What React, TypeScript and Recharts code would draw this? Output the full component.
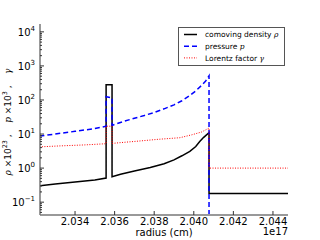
import { Label, Legend, Line, LineChart, XAxis, YAxis } from 'recharts'

// radius in units of 1e17 cm
const rhoX = [2.0322, 2.033, 2.034, 2.035, 2.03557, 2.03557, 2.03587, 2.03587, 2.0363, 2.037, 2.0378, 2.0385, 2.039, 2.0394, 2.0398, 2.0401, 2.0403, 2.0405, 2.04077, 2.04077, 2.0448]
const rhoY = [0.3, 0.34, 0.39, 0.45, 0.51, 280, 280, 0.56, 0.66, 0.82, 1.04, 1.35, 1.75, 2.3, 3.1, 4.3, 6.0, 8.0, 11, 0.18, 0.18]

// pressure falls out of the visible range behind the shock
const presX = [2.0322, 2.033, 2.034, 2.035, 2.03557, 2.03557, 2.03587, 2.03587, 2.0365, 2.037, 2.0375, 2.038, 2.0385, 2.039, 2.0394, 2.0398, 2.0401, 2.0404, 2.0406, 2.04077, 2.04077]
const presY = [8.7, 10, 12, 14.5, 17, 125, 115, 18, 24, 29, 35, 43, 55, 72, 95, 135, 185, 270, 360, 510, 0.045]

const gamX = [2.0322, 2.0333, 2.0345, 2.03557, 2.03557, 2.03587, 2.03587, 2.0363, 2.0372, 2.0382, 2.0393, 2.0399, 2.0404, 2.04077, 2.04077, 2.0448]
const gamY = [4.2, 4.5, 4.8, 5.2, 17, 17, 5.3, 5.6, 6.2, 7.0, 7.8, 9.5, 11.5, 15, 1.0, 1.0]

const seriesNames = ['comoving density ρ', 'pressure p', 'Lorentz factor γ']
const xTicks = [2.034, 2.036, 2.038, 2.04, 2.042, 2.044]
const yMajors = [0.1, 1, 10, 100, 1000, 10000]
const xDomain = [2.03223, 2.04476]
const yDomain = [0.042, 17000]

const yTicks: number[] = []
;[0.01, 0.1, 1, 10, 100, 1000, 10000].forEach((m) => {
    for (let k = 1; k < 10; k++) {
        const v = m * k
        if (v >= yDomain[0] && v <= yDomain[1]) yTicks.push(v)
    }
})

const rhoData = rhoX.map((x, i) => ({ x, v: rhoY[i] }))
const presData = presX.map((x, i) => ({ x, v: presY[i] }))
const gamData = gamX.map((x, i) => ({ x, v: gamY[i] }))

const FONT = 'DejaVu Sans'
const frame = { stroke: '#777', strokeWidth: 1.5 }
const legendStyles = [
    { stroke: '#000', dash: undefined, width: 1.5 },
    { stroke: '#0000ff', dash: '5 3', width: 1.5 },
    { stroke: '#ff0000', dash: '1 1.5', width: 1 },
]

const isMajor = (v: number) => yMajors.some((m) => Math.abs(v / m - 1) < 1e-6)

const BottomTick = ({ x, y, payload }: any) => (
    <g>
        <line x1={x} x2={x} y1={y} y2={y - 4} stroke="#333" />
        <text x={x} y={y + 10} textAnchor="middle" fontSize={10} fontFamily={FONT} fill="#000">
            {payload.value.toFixed(3)}
        </text>
    </g>
)

const TopTick = ({ x, y }: any) => <line x1={x} x2={x} y1={y} y2={y + 4} stroke="#333" />

const LeftTick = ({ x, y, payload }: any) => {
    const major = isMajor(payload.value)
    const e = Math.round(Math.log10(payload.value))
    return (
        <g>
            <line x1={x} x2={x + (major ? 4 : 2)} y1={y} y2={y} stroke="#333" />
            {major && (
                <text x={x - 5} y={y + 4} textAnchor="end" fontSize={10} fontFamily={FONT} fill="#000">
                    10
                    <tspan dy={-5} fontSize={7}>
                        {e < 0 ? '\u2212' + -e : e}
                    </tspan>
                </text>
            )}
        </g>
    )
}

const RightTick = ({ x, y, payload }: any) => (
    <line x1={x} x2={x - (isMajor(payload.value) ? 4 : 2)} y1={y} y2={y} stroke="#333" />
)

const YLabel = () => (
    <text
        transform="translate(11,122) rotate(-90)"
        textAnchor="middle"
        fontSize={9}
        fontFamily={FONT}
        fill="#000"
        style={{ whiteSpace: 'pre' }}
    >
        <tspan fontStyle="italic" fontFamily="DejaVu Serif">ρ</tspan>
        <tspan> ×10</tspan>
        <tspan dy={-4} fontSize={6.5}>23</tspan>
        <tspan dy={4}> ,    </tspan>
        <tspan fontStyle="italic" fontFamily="DejaVu Serif">p</tspan>
        <tspan> ×10</tspan>
        <tspan dy={-4} fontSize={6.5}>3</tspan>
        <tspan dy={4}> ,    </tspan>
        <tspan fontStyle="italic" fontFamily="DejaVu Serif">γ</tspan>
    </text>
)

const XLabel = () => (
    <g fontFamily={FONT} fontSize={10} fill="#000">
        <text x={164} y={236} textAnchor="middle">radius (cm)</text>
        <text x={288} y={235} textAnchor="end">1e17</text>
    </g>
)

const LegendBox = ({ payload }: any) => {
    const items = [...(payload || [])].sort(
        (a: any, b: any) => seriesNames.indexOf(String(a.value)) - seriesNames.indexOf(String(b.value)),
    )
    return (
        <svg width={107} height={39} style={{ display: 'block' }}>
            <rect x={0.5} y={0.5} width={106} height={38} fill="#fff" stroke="#555" />
            {items.map((entry: any, i: number) => {
                const s = legendStyles[i]
                const cy = 7.5 + i * 11.7
                const name = String(entry.value)
                return (
                    <g key={name}>
                        <line x1={6} x2={19} y1={cy} y2={cy} stroke={entry.color || s.stroke} strokeWidth={s.width} strokeDasharray={s.dash} />
                        <text x={27} y={cy + 2.7} fontSize={7.5} fontFamily={FONT} fill="#000">
                            {name.slice(0, -1)}
                            <tspan fontStyle="italic" fontFamily="DejaVu Serif">{name.slice(-1)}</tspan>
                        </text>
                    </g>
                )
            })}
        </svg>
    )
}

export default function App() {
    return (
        <div style={{ position: 'absolute', left: 0, top: 0 }}>
            <LineChart width={320} height={240} margin={{ top: 24, right: 32, bottom: 0, left: 0 }}>
                <XAxis
                    xAxisId="b"
                    dataKey="x"
                    type="number"
                    domain={xDomain}
                    allowDataOverflow
                    ticks={xTicks}
                    interval={0}
                    tickLine={false}
                    tickSize={0}
                    tickMargin={0}
                    height={25}
                    axisLine={frame}
                    tick={BottomTick}
                >
                    <Label content={XLabel} />
                </XAxis>
                <XAxis
                    xAxisId="t"
                    orientation="top"
                    dataKey="x"
                    type="number"
                    domain={xDomain}
                    allowDataOverflow
                    ticks={xTicks}
                    interval={0}
                    tickLine={false}
                    tickSize={0}
                    tickMargin={0}
                    height={0}
                    axisLine={frame}
                    tick={TopTick}
                />
                <YAxis
                    yAxisId="l"
                    scale="log"
                    domain={yDomain}
                    allowDataOverflow
                    ticks={yTicks}
                    interval={0}
                    tickLine={false}
                    tickSize={0}
                    tickMargin={0}
                    width={40}
                    axisLine={frame}
                    tick={LeftTick}
                >
                    <Label content={YLabel} />
                </YAxis>
                <YAxis
                    yAxisId="r"
                    orientation="right"
                    scale="log"
                    domain={yDomain}
                    allowDataOverflow
                    ticks={yTicks}
                    interval={0}
                    tickLine={false}
                    tickSize={0}
                    tickMargin={0}
                    width={0}
                    axisLine={frame}
                    tick={RightTick}
                />
                <Line
                    xAxisId="b"
                    yAxisId="l"
                    data={rhoData}
                    dataKey="v"
                    name={seriesNames[0]}
                    type="linear"
                    stroke="#000"
                    strokeWidth={1.5}
                    dot={false}
                    isAnimationActive={false}
                />
                <Line
                    xAxisId="b"
                    yAxisId="l"
                    data={presData}
                    dataKey="v"
                    name={seriesNames[1]}
                    type="linear"
                    stroke="#0000ff"
                    strokeWidth={1.5}
                    strokeDasharray="5 3"
                    dot={false}
                    isAnimationActive={false}
                />
                <Line
                    xAxisId="b"
                    yAxisId="l"
                    data={gamData}
                    dataKey="v"
                    name={seriesNames[2]}
                    type="linear"
                    stroke="#ff0000"
                    strokeWidth={1}
                    strokeDasharray="1 1.5"
                    dot={false}
                    isAnimationActive={false}
                />
                <Legend
                    layout="vertical"
                    align="center"
                    verticalAlign="middle"
                    wrapperStyle={{ left: 178, top: 27, width: 107, height: 39 }}
                    content={LegendBox}
                />
            </LineChart>
        </div>
    )
}
